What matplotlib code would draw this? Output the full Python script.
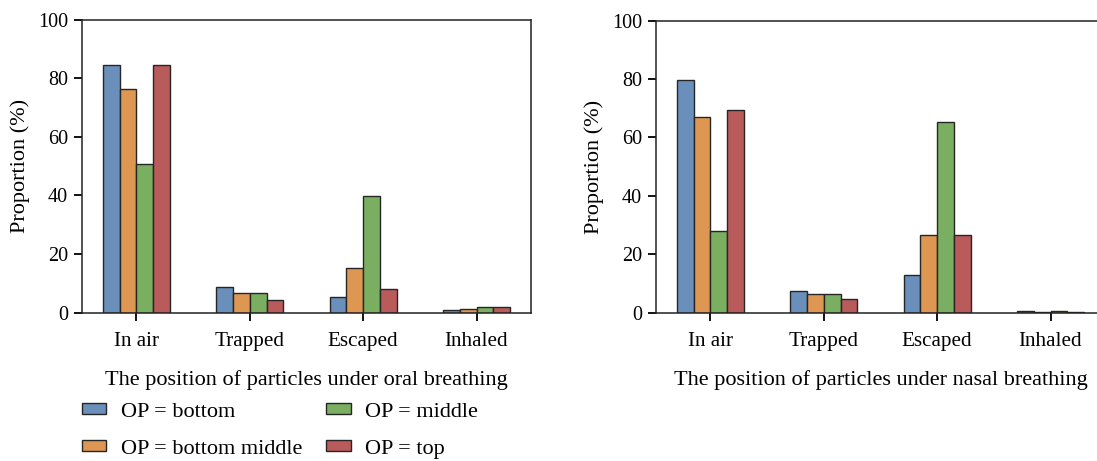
import matplotlib
matplotlib.use("Agg")
import matplotlib.pyplot as plt
import numpy as np
from matplotlib.patches import Patch

plt.rcParams['font.family'] = ['Liberation Serif', 'DejaVu Serif']

categories = ["In air", "Trapped", "Escaped", "Inhaled"]
series_names = ["OP = bottom", "OP = bottom middle", "OP = middle", "OP = top"]
colors = ["#6a8fba", "#dd9753", "#7aae61", "#b95a5b"]

oral_bottom = [84.5, 8.8, 5.4, 1.0]
oral_bottom_middle = [76.3, 6.8, 15.1, 1.3]
oral_middle = [50.8, 6.8, 39.8, 1.9]
oral_top = [84.5, 4.3, 8.1, 1.9]

nasal_bottom = [79.6, 7.3, 12.9, 0.6]
nasal_bottom_middle = [67.0, 6.5, 26.4, 0.1]
nasal_middle = [28.0, 6.3, 65.4, 0.6]
nasal_top = [69.2, 4.6, 26.4, 0.3]

oral = [oral_bottom, oral_bottom_middle, oral_middle, oral_top]
nasal = [nasal_bottom, nasal_bottom_middle, nasal_middle, nasal_top]

W, H = 1097, 461
fig = plt.figure(figsize=(W / 100, H / 100), dpi=100)

def px_axes(x0, y0, x1, y1):
    return fig.add_axes([x0 / W, 1 - y1 / H, (x1 - x0) / W, (y1 - y0) / H])

ax1 = px_axes(82, 20, 531, 312.5)
ax2 = px_axes(656, 20.5, 1105, 312.5)

bw = 0.148
x = np.arange(len(categories))
tick_fs = 14.5
cat_fs = 15.2
label_fs = 16

def draw(ax, data, xlabel):
    for i, vals in enumerate(data):
        ax.bar(x + (i - 1.5) * bw, vals, width=bw, color=colors[i],
               edgecolor="#262626", linewidth=1.0, label=series_names[i])
    ax.set_xlim(-0.48, 3.48)
    ax.set_ylim(0, 100)
    ax.set_yticks([0, 20, 40, 60, 80, 100])
    ax.set_xticks(x)
    ax.set_xticklabels(categories, fontsize=cat_fs)
    ax.tick_params(direction="out", length=6, width=1.3, pad=4)
    ax.tick_params(axis="y", labelsize=tick_fs)
    ax.tick_params(axis="x", pad=8)
    ax.set_ylabel("Proportion (%)", fontsize=label_fs, labelpad=6)
    ax.set_xlabel(xlabel, fontsize=label_fs, labelpad=14)
    for s in ax.spines.values():
        s.set_linewidth(1.1)
        s.set_color("#222222")

draw(ax1, oral, "The position of particles under oral breathing")
draw(ax2, nasal, "The position of particles under nasal breathing")

handles = [Patch(facecolor=colors[i], edgecolor="#262626", linewidth=1.0,
                 label=series_names[i]) for i in range(4)]
fig.legend(handles=handles, ncol=2, frameon=False, fontsize=label_fs,
           loc="upper left", bbox_to_anchor=(64 / W, 1 - 385 / H),
           handlelength=1.1, handleheight=0.4, labelspacing=0.8,
           columnspacing=1.1, handletextpad=0.65, borderpad=0.3)

fig.savefig("out.png", dpi=100)
